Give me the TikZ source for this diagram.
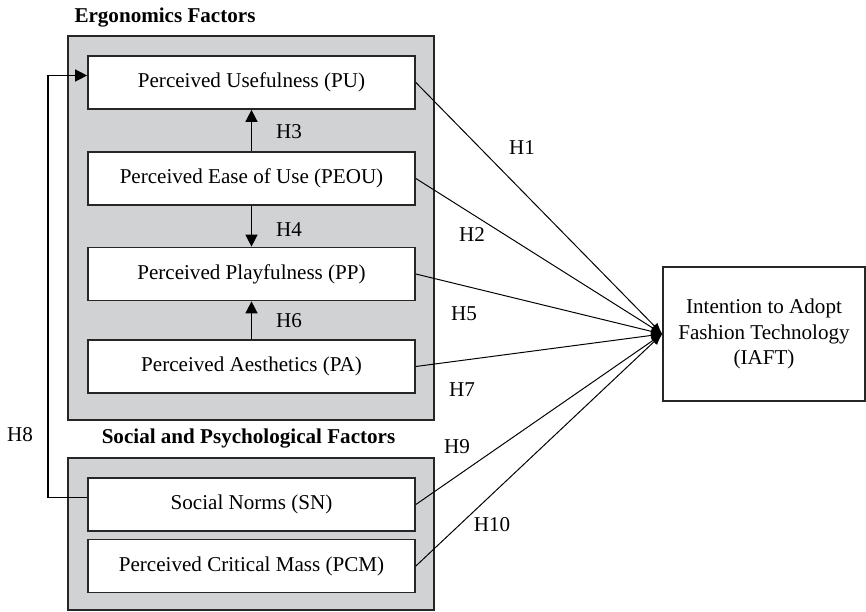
\documentclass[tikz,border=0pt]{standalone}
\usepackage{fontspec}
\setmainfont{Liberation Serif}
\usepackage{xcolor}
\usepackage{tikz}
\usetikzlibrary{arrows.meta,positioning}

\definecolor{groupgray}{RGB}{209,210,212}

\begin{document}
\begin{tikzpicture}[
  font=\fontsize{15}{18.2}\selectfont,
  group/.style={draw=black!85,line width=1.2pt,fill=groupgray,minimum width=9.15cm,inner sep=0pt},
  factor/.style={draw=black!85,line width=1.2pt,fill=white,minimum width=8.175cm,
                 minimum height=1.325cm,inner sep=0pt,align=center},
  outcome/.style={draw=black!85,line width=1.1pt,fill=white,minimum width=5.05cm,
                  minimum height=3.35cm,inner sep=0pt,align=center},
  ttl/.style={font=\fontsize{15}{18.2}\selectfont\bfseries,inner sep=0pt},
  hyp/.style={inner sep=0pt},
  up/.style={-{Triangle[length=0.3cm,width=0.3cm]},line width=1pt},
  ar/.style={-{Latex[length=0.28cm,width=0.22cm]},line width=0.7pt}
]
\useasboundingbox (0,0) rectangle (21.65,15.3);
% group frames
\node[group,minimum height=9.6cm] (ergo) at (6.275,9.6) {};
\node[group,minimum height=3.8cm] (soc) at (6.275,1.95) {};
\node[ttl] (ergottl) at (4.125,14.85) {Ergonomics Factors};
\node[ttl] (socttl) at (6.2125,4.325) {Social and Psychological Factors};
% ergonomics factors
\node[factor] (pu) at (6.2875,13.2375) {Perceived Usefulness (PU)};
\node[factor] (peou) at (6.2875,10.8375) {Perceived Ease of Use (PEOU)};
\node[factor] (pp) at (6.2875,8.45) {Perceived Playfulness (PP)};
\node[factor] (pa) at (6.2875,6.1375) {Perceived Aesthetics (PA)};
% social and psychological factors
\node[factor] (sn) at (6.2875,2.6875) {Social Norms (SN)};
\node[factor] (pcm) at (6.2875,1.15) {Perceived Critical Mass (PCM)};
% outcome
\node[outcome] (iaft) at (19.1,6.95) {Intention to Adopt\\Fashion Technology\\(IAFT)};
% links inside the frame
\draw[up] (peou) -- (pu);
\draw[up] (peou) -- (pp);
\draw[up] (pa) -- (pp);
\node[hyp] (h3) at (7.225,12.0) {H3};
\node[hyp] (h4) at (7.225,9.55) {H4};
\node[hyp] (h6) at (7.225,7.275) {H6};
% feedback from SN to PU
\draw[up] ([yshift=0.175cm]sn.west) -- ++(-0.975,0) |- ([yshift=0.175cm]pu.west);
\node[hyp] (h8) at (0.5,4.425) {H8};
% paths to the outcome
\foreach \src in {pu,peou,pp,pa,sn,pcm}
  \draw[ar] (\src.east) -- (iaft.west);
\node[hyp] (h1) at (13.05,11.6) {H1};
\node[hyp] (h2) at (11.8,9.425) {H2};
\node[hyp] (h5) at (11.6,7.45) {H5};
\node[hyp] (h7) at (11.55,5.55) {H7};
\node[hyp] (h9) at (11.425,4.125) {H9};
\node[hyp] (h10) at (12.3,2.175) {H10};
\end{tikzpicture}
\end{document}
